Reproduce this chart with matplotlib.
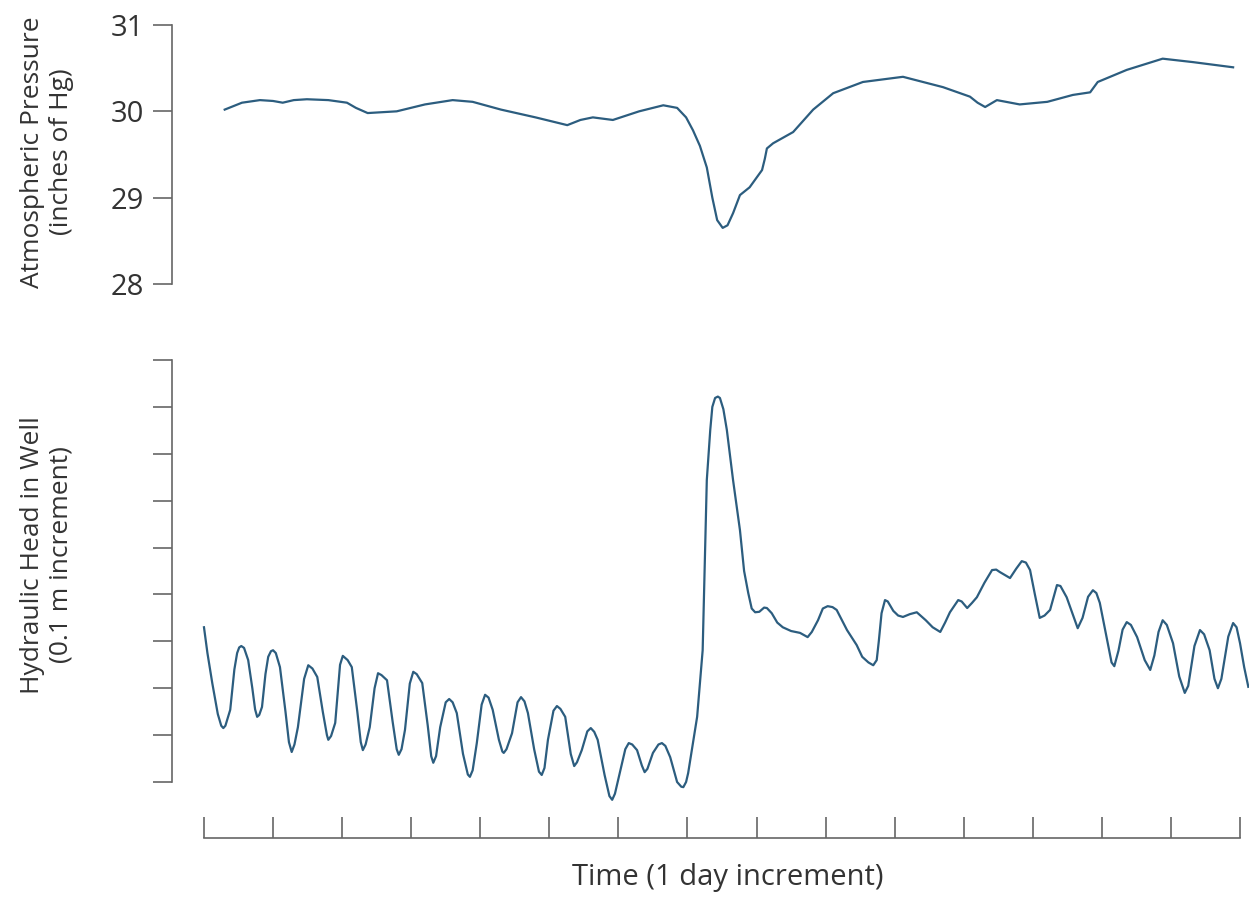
#!/usr/bin/env python3
"""
Atmospheric pressure vs. hydraulic head in a well, over ~15 days.
Two stacked panels with a separate time axis underneath.
"""

import matplotlib
matplotlib.use("Agg")
import matplotlib.pyplot as plt

# --- data (time in days) ---
pressure_days = [0.30, 0.55, 0.81, 1.00, 1.14, 1.30, 1.49, 1.80, 2.07, 2.20, 2.37, 2.79,
                 3.20, 3.60, 3.89, 4.30, 4.80, 5.26, 5.45, 5.63, 5.92, 6.30, 6.65, 6.85,
                 6.98, 7.08, 7.18, 7.28, 7.36, 7.43, 7.51, 7.58, 7.66, 7.76, 7.90, 8.08,
                 8.12, 8.15, 8.24, 8.53, 8.82, 9.11, 9.54, 10.12, 10.70, 11.09, 11.20, 11.31,
                 11.48, 11.81, 12.21, 12.58, 12.83, 12.94, 13.36, 13.88, 14.32, 14.90]
pressure_inhg = [30.02, 30.10, 30.13, 30.12, 30.10, 30.13, 30.14, 30.13, 30.10, 30.04, 29.98, 30.00,
                 30.08, 30.13, 30.11, 30.02, 29.93, 29.84, 29.90, 29.93, 29.90, 30.00, 30.07, 30.04,
                 29.93, 29.78, 29.60, 29.35, 29.00, 28.74, 28.65, 28.68, 28.82, 29.03, 29.12, 29.32,
                 29.45, 29.57, 29.63, 29.76, 30.02, 30.21, 30.34, 30.40, 30.28, 30.17, 30.10, 30.05,
                 30.13, 30.08, 30.11, 30.19, 30.22, 30.34, 30.48, 30.61, 30.57, 30.51]

# hydraulic head in tick units (one tick = 0.1 m)
head_days = [0.00, 0.05, 0.12, 0.20, 0.25, 0.28, 0.31, 0.38, 0.44, 0.48, 0.51, 0.54,
             0.58, 0.64, 0.70, 0.74, 0.77, 0.80, 0.84, 0.89, 0.93, 0.97, 1.00, 1.04,
             1.10, 1.18, 1.23, 1.27, 1.31, 1.36, 1.45, 1.51, 1.57, 1.64, 1.72, 1.78,
             1.80, 1.84, 1.90, 1.97, 2.01, 2.05, 2.08, 2.14, 2.22, 2.27, 2.30, 2.34,
             2.40, 2.47, 2.52, 2.57, 2.65, 2.73, 2.79, 2.82, 2.86, 2.91, 2.98, 3.03,
             3.08, 3.16, 3.24, 3.29, 3.32, 3.36, 3.42, 3.50, 3.55, 3.60, 3.66, 3.75,
             3.82, 3.85, 3.89, 3.95, 4.02, 4.07, 4.12, 4.18, 4.27, 4.32, 4.34, 4.38,
             4.46, 4.54, 4.59, 4.64, 4.69, 4.78, 4.85, 4.89, 4.93, 4.98, 5.06, 5.11,
             5.16, 5.23, 5.31, 5.36, 5.40, 5.47, 5.55, 5.60, 5.65, 5.70, 5.80, 5.87,
             5.91, 5.95, 6.02, 6.10, 6.15, 6.20, 6.27, 6.34, 6.38, 6.42, 6.50, 6.58,
             6.63, 6.68, 6.75, 6.85, 6.91, 6.94, 6.98, 7.01, 7.14, 7.22, 7.25, 7.28,
             7.33, 7.36, 7.40, 7.44, 7.47, 7.52, 7.57, 7.66, 7.76, 7.82, 7.88, 7.93,
             7.98, 8.04, 8.11, 8.15, 8.22, 8.30, 8.38, 8.50, 8.63, 8.74, 8.80, 8.89,
             8.96, 9.03, 9.10, 9.16, 9.31, 9.45, 9.53, 9.62, 9.69, 9.74, 9.77, 9.81,
             9.86, 9.90, 9.98, 10.05, 10.12, 10.22, 10.32, 10.45, 10.55, 10.66, 10.73, 10.80,
             10.92, 10.97, 11.05, 11.12, 11.19, 11.30, 11.41, 11.47, 11.52, 11.67, 11.76, 11.84,
             11.90, 11.96, 12.03, 12.10, 12.17, 12.25, 12.35, 12.40, 12.49, 12.65, 12.72, 12.80,
             12.87, 12.92, 12.97, 13.08, 13.14, 13.18, 13.24, 13.30, 13.36, 13.42, 13.51, 13.62,
             13.70, 13.76, 13.82, 13.88, 13.94, 14.03, 14.12, 14.20, 14.25, 14.34, 14.42, 14.48,
             14.56, 14.63, 14.68, 14.73, 14.83, 14.90, 14.95, 15.00, 15.06, 15.12]
head_ticks = [3.30, 2.75, 2.11, 1.45, 1.20, 1.15, 1.20, 1.54, 2.40, 2.75, 2.87, 2.90,
              2.86, 2.60, 2.00, 1.55, 1.39, 1.43, 1.60, 2.30, 2.67, 2.79, 2.81, 2.75,
              2.45, 1.50, 0.85, 0.64, 0.80, 1.17, 2.20, 2.49, 2.42, 2.24, 1.50, 1.00,
              0.90, 0.98, 1.26, 2.50, 2.69, 2.64, 2.60, 2.45, 1.50, 0.85, 0.68, 0.80,
              1.17, 2.00, 2.32, 2.28, 2.17, 1.30, 0.70, 0.58, 0.70, 1.11, 2.10, 2.35,
              2.30, 2.11, 1.20, 0.55, 0.41, 0.55, 1.17, 1.70, 1.77, 1.70, 1.47, 0.60,
              0.16, 0.11, 0.25, 0.83, 1.65, 1.86, 1.80, 1.54, 0.90, 0.65, 0.62, 0.70,
              1.04, 1.70, 1.81, 1.72, 1.47, 0.70, 0.22, 0.15, 0.30, 0.90, 1.52, 1.62,
              1.56, 1.39, 0.60, 0.34, 0.42, 0.68, 1.08, 1.15, 1.07, 0.90, 0.15, -0.30,
              -0.38, -0.25, 0.19, 0.70, 0.83, 0.80, 0.68, 0.35, 0.21, 0.28, 0.62, 0.80,
              0.83, 0.77, 0.53, 0.00, -0.10, -0.11, 0.00, 0.19, 1.39, 2.81, 4.60, 6.44,
              7.51, 8.00, 8.19, 8.22, 8.19, 7.95, 7.51, 6.44, 5.37, 4.50, 4.03, 3.70,
              3.62, 3.63, 3.72, 3.71, 3.60, 3.40, 3.30, 3.22, 3.18, 3.09, 3.20, 3.45,
              3.70, 3.75, 3.73, 3.67, 3.24, 2.92, 2.67, 2.55, 2.49, 2.60, 3.00, 3.60,
              3.88, 3.85, 3.65, 3.55, 3.52, 3.58, 3.62, 3.45, 3.30, 3.20, 3.40, 3.62,
              3.88, 3.85, 3.71, 3.82, 3.94, 4.25, 4.52, 4.53, 4.48, 4.35, 4.55, 4.71,
              4.68, 4.52, 4.00, 3.50, 3.55, 3.67, 4.20, 4.18, 3.94, 3.28, 3.50, 3.95,
              4.09, 4.03, 3.82, 3.00, 2.55, 2.47, 2.80, 3.25, 3.41, 3.35, 3.09, 2.60,
              2.39, 2.70, 3.20, 3.45, 3.35, 2.96, 2.25, 1.90, 2.05, 2.90, 3.24, 3.15,
              2.81, 2.20, 2.00, 2.20, 3.10, 3.39, 3.30, 2.96, 2.45, 2.03]

pressure_ticks = [28, 29, 30, 31]
head_tick_pos = list(range(10))
time_tick_pos = list(range(16))

LINE = "#2c5d7f"
AXIS = "#666666"
TEXT = "#333333"
FONT = "Open Sans"

plt.rcParams["font.family"] = [FONT, "DejaVu Sans"]

fig = plt.figure(figsize=(12.49, 9.22), dpi=100)
W, H = 1249.0, 922.0

# x limits shared by every panel (day 0 sits at px 204, day 15 at px 1240)
xlim = (-0.463, 15.13)


def px_axes(left, top, right, bottom):
    return fig.add_axes([left / W, 1 - bottom / H, (right - left) / W, (bottom - top) / H])


def style_left(ax):
    for s in ["top", "right", "bottom"]:
        ax.spines[s].set_visible(False)
    ax.spines["left"].set_color(AXIS)
    ax.spines["left"].set_linewidth(1.2)
    ax.tick_params(axis="y", direction="out", length=14, width=1.2, color=AXIS,
                   labelsize=21, labelcolor=TEXT, pad=6)
    ax.set_xticks([])
    ax.set_xlim(*xlim)
    ax.patch.set_alpha(0)


# Top panel: atmospheric pressure
ax1 = px_axes(172, 25, 1249, 284)
style_left(ax1)
ax1.plot(pressure_days, pressure_inhg, color=LINE, lw=1.6, clip_on=False,
         solid_joinstyle="round")
ax1.set_ylim(28, 31)
ax1.set_yticks(pressure_ticks)
ax1.set_yticklabels([str(v) for v in pressure_ticks])

# Bottom panel: hydraulic head (unlabelled 0.1 m ticks)
ax2 = px_axes(172, 360, 1249, 782)
style_left(ax2)
ax2.plot(head_days, head_ticks, color=LINE, lw=1.6, clip_on=False,
         solid_joinstyle="round")
ax2.set_ylim(0, 9)
ax2.set_yticks(head_tick_pos)
ax2.set_yticklabels([])

# Time axis drawn on its own, ticks pointing up
ax3 = px_axes(172, 800, 1249, 838)
for s in ["top", "right", "left"]:
    ax3.spines[s].set_visible(False)
ax3.spines["bottom"].set_color(AXIS)
ax3.spines["bottom"].set_linewidth(1.2)
ax3.spines["bottom"].set_bounds(0, 15)
ax3.set_xlim(*xlim)
ax3.set_yticks([])
ax3.set_xticks(time_tick_pos)
ax3.set_xticklabels([])
ax3.tick_params(axis="x", direction="in", length=15, width=1.2, color=AXIS)
ax3.patch.set_alpha(0)

# Labels
fig.text(728 / W, 1 - 877 / H, "Time (1 day increment)", ha="center", va="center",
         fontsize=21, color=TEXT)
fig.text(47 / W, 1 - 152 / H, "Atmospheric Pressure\n(inches of Hg)", ha="center",
         va="center", rotation=90, fontsize=19, color=TEXT, linespacing=1.2)
fig.text(47 / W, 1 - 555 / H, "Hydraulic Head in Well\n(0.1 m increment)", ha="center",
         va="center", rotation=90, fontsize=19, color=TEXT, linespacing=1.2)

fig.savefig("out.png", dpi=100)
